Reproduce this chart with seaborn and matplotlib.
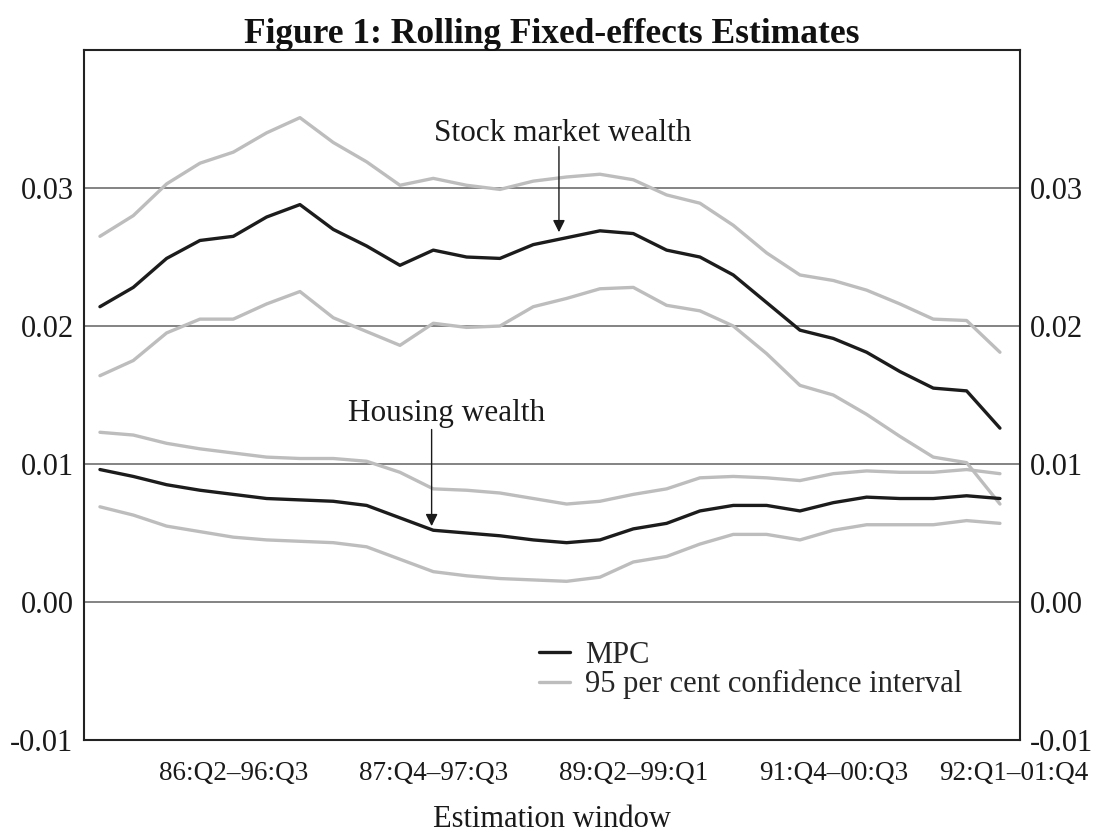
import numpy as np
import pandas as pd
import matplotlib
matplotlib.use("Agg")
import matplotlib.pyplot as plt
import seaborn as sns

# estimation windows (one per quarter, 28 rolling windows)
windows = list(range(28))
tick_pos = [4, 10, 16, 22, 27.4]
tick_labels = ["86:Q2–96:Q3", "87:Q4–97:Q3", "89:Q2–99:Q1", "91:Q4–00:Q3", "92:Q1–01:Q4"]
y_ticks = [-0.01, 0.00, 0.01, 0.02, 0.03]
y_labels = ["-0.01", "0.00", "0.01", "0.02", "0.03"]

stock_mpc = [0.0214, 0.0228, 0.0249, 0.0262, 0.0265, 0.0279, 0.0288, 0.0270, 0.0258, 0.0244,
             0.0255, 0.0250, 0.0249, 0.0259, 0.0264, 0.0269, 0.0267, 0.0255, 0.0250, 0.0237,
             0.0217, 0.0197, 0.0191, 0.0181, 0.0167, 0.0155, 0.0153, 0.0126]
stock_upper = [0.0265, 0.0280, 0.0303, 0.0318, 0.0326, 0.0340, 0.0351, 0.0333, 0.0319, 0.0302,
               0.0307, 0.0302, 0.0299, 0.0305, 0.0308, 0.0310, 0.0306, 0.0295, 0.0289, 0.0273,
               0.0253, 0.0237, 0.0233, 0.0226, 0.0216, 0.0205, 0.0204, 0.0181]
stock_lower = [0.0164, 0.0175, 0.0195, 0.0205, 0.0205, 0.0216, 0.0225, 0.0206, 0.0196, 0.0186,
               0.0202, 0.0199, 0.0200, 0.0214, 0.0220, 0.0227, 0.0228, 0.0215, 0.0211, 0.0200,
               0.0180, 0.0157, 0.0150, 0.0136, 0.0120, 0.0105, 0.0101, 0.0071]
housing_mpc = [0.0096, 0.0091, 0.0085, 0.0081, 0.0078, 0.0075, 0.0074, 0.0073, 0.0070, 0.0061,
               0.0052, 0.0050, 0.0048, 0.0045, 0.0043, 0.0045, 0.0053, 0.0057, 0.0066, 0.0070,
               0.0070, 0.0066, 0.0072, 0.0076, 0.0075, 0.0075, 0.0077, 0.0075]
housing_upper = [0.0123, 0.0121, 0.0115, 0.0111, 0.0108, 0.0105, 0.0104, 0.0104, 0.0102, 0.0094,
                 0.0082, 0.0081, 0.0079, 0.0075, 0.0071, 0.0073, 0.0078, 0.0082, 0.0090, 0.0091,
                 0.0090, 0.0088, 0.0093, 0.0095, 0.0094, 0.0094, 0.0096, 0.0093]
housing_lower = [0.0069, 0.0063, 0.0055, 0.0051, 0.0047, 0.0045, 0.0044, 0.0043, 0.0040, 0.0031,
                 0.0022, 0.0019, 0.0017, 0.0016, 0.0015, 0.0018, 0.0029, 0.0033, 0.0042, 0.0049,
                 0.0049, 0.0045, 0.0052, 0.0056, 0.0056, 0.0056, 0.0059, 0.0057]

MPC = "MPC"
CI = "95 per cent confidence interval"

# long-form table
series = {
    ("stock_upper", CI): stock_upper,
    ("stock_lower", CI): stock_lower,
    ("housing_upper", CI): housing_upper,
    ("housing_lower", CI): housing_lower,
    ("stock_mpc", MPC): stock_mpc,
    ("housing_mpc", MPC): housing_mpc,
}
frames = []
for (name, kind), vals in series.items():
    frames.append(pd.DataFrame({"window": windows, "value": vals, "series": name, "kind": kind}))
df = pd.concat(frames, ignore_index=True)

sns.set_style("white")
plt.rcParams["font.family"] = ["Liberation Serif", "DejaVu Serif"]

fig, ax = plt.subplots(figsize=(11.09, 8.34), dpi=100)
fig.subplots_adjust(left=0.0757, right=0.9197, top=0.940, bottom=0.1127)

# horizontal reference lines
for yv in [0.0, 0.01, 0.02, 0.03]:
    ax.axhline(yv, color="#7a7a7a", lw=1.3, zorder=1)

sns.lineplot(data=df[df["kind"] == CI], x="window", y="value", units="series",
             estimator=None, color="#bdbdbd", lw=2.4, ax=ax, zorder=2)
sns.lineplot(data=df[df["kind"] == MPC], x="window", y="value", units="series",
             estimator=None, color="#1c1c1c", lw=2.4, ax=ax, zorder=3)

ax.set_xlim(-0.48, 27.6)
ax.set_ylim(-0.01, 0.04)
ax.set_yticks(y_ticks)
ax.set_yticklabels(y_labels)
ax.set_xticks(tick_pos)
ax.set_xticklabels(tick_labels)
ax.tick_params(axis="y", left=False, right=False, labelleft=True, labelright=True,
               labelsize=22, pad=4, colors="#1a1a1a")
ax.tick_params(axis="x", direction="in", length=11, width=1.0, color="#333333",
               labelsize=19.5, pad=15, labelcolor="#1a1a1a")
ax.xaxis.get_major_ticks()[-1].tick1line.set_visible(False)

for sp in ax.spines.values():
    sp.set_visible(True)
    sp.set_color("#222222")
    sp.set_linewidth(1.5)

ax.set_xlabel("Estimation window", fontsize=22, labelpad=14, color="#1a1a1a")
ax.set_ylabel("")
ax.set_title("Figure 1: Rolling Fixed-effects Estimates", fontsize=25.5, fontweight="bold",
             pad=5, color="#111111")

# annotations
ax.annotate("", xy=(13.77, 0.0268), xytext=(13.77, 0.0330),
            arrowprops=dict(arrowstyle="-|>", color="#1a1a1a", lw=1.0,
                            mutation_scale=18, shrinkA=0, shrinkB=0))
ax.text(13.87, 0.0334, "Stock market wealth", fontsize=22.5, ha="center", va="baseline",
        color="#1a1a1a")
ax.annotate("", xy=(9.95, 0.0055), xytext=(9.95, 0.0125),
            arrowprops=dict(arrowstyle="-|>", color="#1a1a1a", lw=1.0,
                            mutation_scale=18, shrinkA=0, shrinkB=0))
ax.text(10.41, 0.0131, "Housing wealth", fontsize=22.5, ha="center", va="baseline",
        color="#1a1a1a")

# legend
handles = [plt.Line2D([], [], color="#1c1c1c", lw=2.4),
           plt.Line2D([], [], color="#bdbdbd", lw=2.4)]
ax.legend(handles, [MPC, CI], loc="upper left", bbox_to_anchor=(0.47, 0.166),
          frameon=False, fontsize=22, handlelength=1.0, handletextpad=0.5,
          labelspacing=0.0, borderpad=0.0)

fig.savefig("out.png", dpi=100)
